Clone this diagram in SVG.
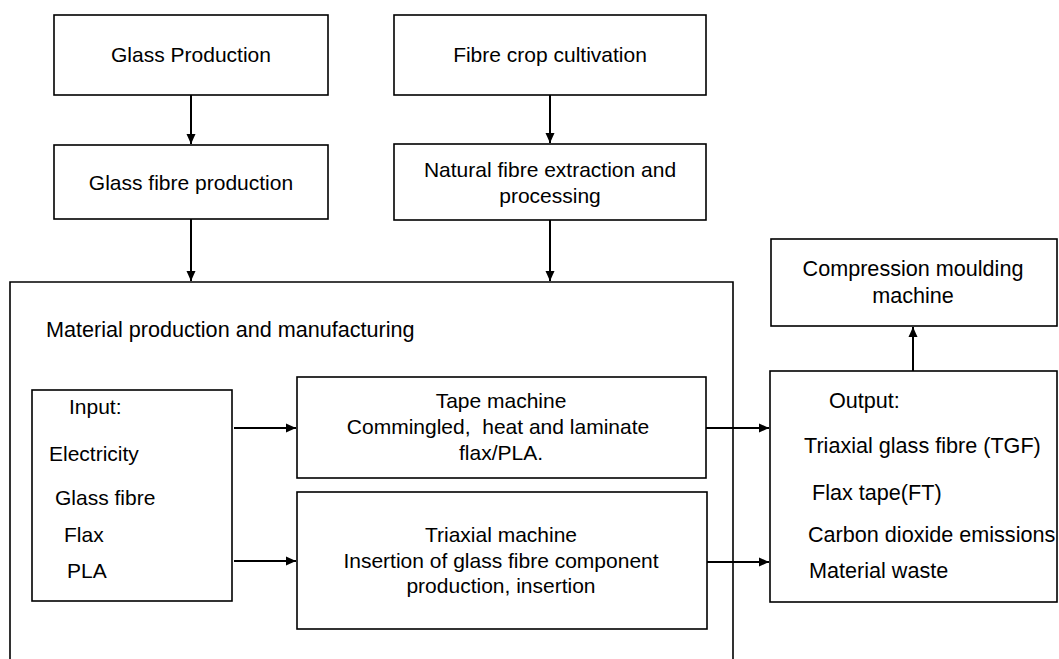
<svg xmlns="http://www.w3.org/2000/svg" width="1059" height="659" viewBox="0 0 1059 659">
<style>
.box{fill:#fff;stroke:#000;stroke-width:1.6}
.frame{fill:none;stroke:#000;stroke-width:1.6}
.t{font-family:"Liberation Sans",Arial,sans-serif;font-size:21px;fill:#000}
.m{text-anchor:middle}
.r{font-size:21.6px}
.c{stroke:#000;stroke-width:2;fill:none}
</style>
<defs>
<marker id="ah" viewBox="0 0 10 10" refX="10" refY="5" markerWidth="10" markerHeight="10" markerUnits="userSpaceOnUse" orient="auto">
<path d="M0,0.5 L10,5 L0,9.5 Z" fill="#000"/>
</marker>
</defs>
<rect width="1059" height="659" fill="#fff"/>
<g id="mpm">
<path class="frame" d="M10,659 V282 H733 V659"/>
<text class="t r" x="46" y="337">Material production and manufacturing</text>
</g>
<g id="glass-production">
<rect class="box" x="54" y="15" width="274" height="80"/>
<text class="t m" x="191" y="62">Glass Production</text>
</g>
<g id="fibre-crop">
<rect class="box" x="394" y="15" width="312" height="80"/>
<text class="t m" x="550" y="62">Fibre crop cultivation</text>
</g>
<g id="glass-fibre">
<rect class="box" x="54" y="145" width="274" height="74"/>
<text class="t m" x="191" y="190">Glass fibre production</text>
</g>
<g id="natural-fibre">
<rect class="box" x="394" y="144" width="312" height="76"/>
<text class="t m" x="550" y="177">Natural fibre extraction and</text>
<text class="t m" x="550" y="203">processing</text>
</g>
<g id="input">
<rect class="box" x="32" y="390" width="200" height="211"/>
<text class="t" x="69" y="414">Input:</text>
<text class="t" x="49" y="461">Electricity</text>
<text class="t" x="55" y="505">Glass fibre</text>
<text class="t" x="64" y="542">Flax</text>
<text class="t" x="67" y="578">PLA</text>
</g>
<g id="tape">
<rect class="box" x="297" y="377" width="409" height="101"/>
<text class="t m" x="501" y="408">Tape machine</text>
<text class="t m" x="498" y="434" xml:space="preserve">Commingled,  heat and laminate</text>
<text class="t m" x="501" y="460">flax/PLA.</text>
</g>
<g id="triaxial">
<rect class="box" x="297" y="492" width="410" height="137"/>
<text class="t m" x="501" y="542">Triaxial machine</text>
<text class="t m" x="501" y="568">Insertion of glass fibre component</text>
<text class="t m" x="501" y="593">production, insertion</text>
</g>
<g id="output">
<rect class="box" x="770" y="371" width="287" height="231"/>
<text class="t r" x="829" y="408">Output:</text>
<text class="t r" x="804" y="453">Triaxial glass fibre (TGF)</text>
<text class="t r" x="812" y="500">Flax tape(FT)</text>
<text class="t r" x="808" y="542">Carbon dioxide emissions</text>
<text class="t r" x="809" y="578">Material waste</text>
</g>
<g id="compression">
<rect class="box" x="771" y="239" width="286" height="87"/>
<text class="t m r" x="913" y="276">Compression moulding</text>
<text class="t m r" x="913" y="303">machine</text>
</g>
<g id="connectors">
<line class="c" x1="191" y1="95" x2="191" y2="144" marker-end="url(#ah)"/>
<line class="c" x1="550" y1="95" x2="550" y2="143" marker-end="url(#ah)"/>
<line class="c" x1="191" y1="219" x2="191" y2="281" marker-end="url(#ah)"/>
<line class="c" x1="550" y1="220" x2="550" y2="281" marker-end="url(#ah)"/>
<line class="c" x1="234" y1="428" x2="296" y2="428" marker-end="url(#ah)"/>
<line class="c" x1="234" y1="561" x2="296" y2="561" marker-end="url(#ah)"/>
<line class="c" x1="706" y1="428" x2="769" y2="428" marker-end="url(#ah)"/>
<line class="c" x1="707" y1="562" x2="769" y2="562" marker-end="url(#ah)"/>
<line class="c" x1="913" y1="371" x2="913" y2="327" marker-end="url(#ah)"/>
</g>
</svg>
